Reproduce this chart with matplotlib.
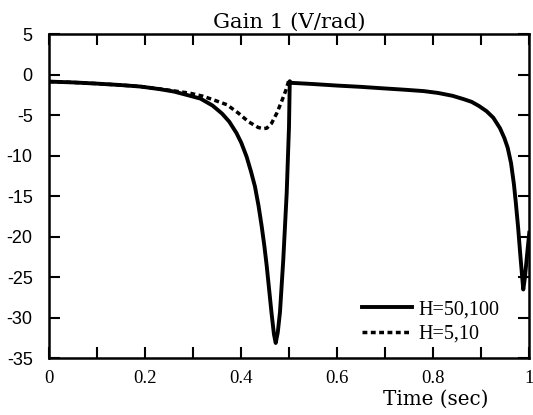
import matplotlib
matplotlib.use("Agg")
import matplotlib.pyplot as plt
from matplotlib.ticker import MultipleLocator

plt.rcParams["axes.unicode_minus"] = False

# H=50,100 (solid)
t_h50 = [0.000, 0.05, 0.10, 0.15, 0.19, 0.23, 0.26, 0.29, 0.315, 0.34,
         0.36, 0.375, 0.39, 0.40, 0.411, 0.42, 0.4285, 0.436, 0.4425, 0.448,
         0.453, 0.458, 0.463, 0.468, 0.4717, 0.476, 0.4806, 0.4875, 0.4946, 0.4994,
         0.5005, 0.501, 0.504, 0.55, 0.60, 0.65, 0.69, 0.74, 0.78, 0.81,
         0.84, 0.8625, 0.88, 0.895, 0.911, 0.925, 0.939, 0.948, 0.955, 0.962,
         0.968, 0.972, 0.977, 0.981, 0.985, 0.9875, 0.991, 0.9958, 1.0]
g_h50 = [-0.85, -0.95, -1.10, -1.28, -1.46, -1.78, -2.08, -2.55, -2.95, -3.8,
         -4.8, -5.8, -7.2, -8.4, -10.1, -11.9, -13.8, -16.2, -18.7, -21.1,
         -23.6, -26.5, -29.4, -32.0, -33.1, -31.8, -29.3, -22.8, -14.6, -6.4,
         -2.5, -0.8, -1.0, -1.15, -1.34, -1.5, -1.66, -1.85, -2.02, -2.25,
         -2.6, -3.0, -3.35, -3.85, -4.5, -5.3, -6.6, -7.8, -9.0, -10.9,
         -13.5, -15.8, -19.0, -22.0, -24.8, -26.5, -25.0, -22.0, -19.5]

# H=5,10 (dashed)
t_h5 = [0.0, 0.05, 0.10, 0.15, 0.19, 0.23, 0.26, 0.293, 0.32, 0.342,
        0.37, 0.394, 0.415, 0.435, 0.445, 0.453, 0.463, 0.474, 0.484, 0.493, 0.5]
g_h5 = [-0.85, -0.95, -1.10, -1.28, -1.46, -1.75, -2.0, -2.28, -2.65, -3.1,
        -3.7, -4.74, -5.8, -6.5, -6.65, -6.6, -6.0, -4.74, -3.3, -1.9, -0.5]

labels = ["H=50,100", "H=5,10"]

SERIF = "DejaVu Serif"
TIMES = "Liberation Serif"

fig, ax = plt.subplots(figsize=(5.33, 4.15), dpi=100)
fig.subplots_adjust(left=0.0925, right=0.993, bottom=0.1364, top=0.9176)

ax.plot(t_h50, g_h50, color="black", lw=2.8, label=labels[0], solid_joinstyle="round")
ax.plot(t_h5, g_h5, color="black", lw=2.5, ls=(0, (1.4, 1.0)), label=labels[1])

ax.set_xlim(0, 1)
ax.set_ylim(-35, 5)
ax.xaxis.set_major_locator(MultipleLocator(0.2))
ax.xaxis.set_minor_locator(MultipleLocator(0.1))
ax.yaxis.set_major_locator(MultipleLocator(5))
ax.set_xticklabels([f"{v:g}" for v in ax.get_xticks()])

ax.tick_params(which="both", direction="in", length=8, width=1.5,
               top=True, right=True, color="black")
ax.tick_params(axis="x", pad=8)
ax.tick_params(axis="y", pad=12)
for lab in ax.get_xticklabels():
    lab.set_fontfamily(TIMES)
    lab.set_fontsize(13.5)
for lab in ax.get_yticklabels():
    lab.set_fontfamily("Liberation Sans")
    lab.set_fontsize(13)

for sp in ax.spines.values():
    sp.set_linewidth(1.8)

ax.set_title("Gain 1 (V/rad)", fontfamily=SERIF, fontsize=15.3, pad=4.5)
ax.set_xlabel("Time (sec)", fontfamily=SERIF, fontsize=14.3, va="top")
ax.xaxis.set_label_coords(0.805, -0.097)

ax.legend(loc="lower left", bbox_to_anchor=(0.651, 0.045), frameon=False,
          borderpad=0, borderaxespad=0, handlelength=2.5, handletextpad=0.3,
          labelspacing=0.28, prop={"family": TIMES, "size": 14.5})

fig.savefig("out.png", dpi=100)
